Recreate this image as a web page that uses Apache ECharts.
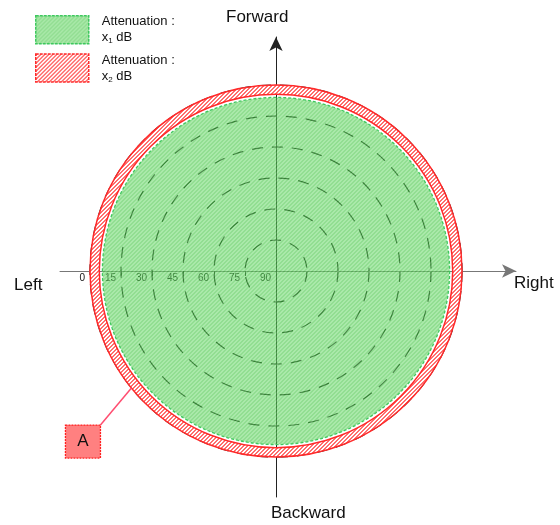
<!DOCTYPE html>
<html><head><meta charset="utf-8">
<script src="https://cdn.jsdelivr.net/npm/echarts@6/dist/echarts.min.js"></script>
<style>html,body{margin:0;padding:0;background:#fff}#c{width:560px;height:525px}</style>
</head><body><div id="c"></div>
<script>
// ---- data ----
const radiusTicks = [0, 15, 30, 45, 60, 75, 90];        // elevation tick labels (outer -> centre)
const seriesNames = ['x1', 'x2'];
const x1Region = [[6, 0]];          // green region: elevation >= 6 deg (to zenith)
const x2Region = [[0, 0, 4.5]];     // red band: elevation 0 .. 4.5 deg
const directionLabels = { forward: 'Forward', backward: 'Backward', left: 'Left', right: 'Right' };
const legendLines = { x1: ['Attenuation :', 'x', '1', ' dB'], x2: ['Attenuation :', 'x', '2', ' dB'] };
const annotationText = 'A';
const annotationPoint = [0, 321];   // [elevation, azimuth] the callout points at

// ---- hatch patterns ----
function hatch(bg, fg, size, width) {
  const c = document.createElement('canvas');
  c.width = c.height = size;
  const g = c.getContext('2d');
  const img = g.createImageData(size, size);
  for (let y = 0; y < size; y++) for (let x = 0; x < size; x++) {
    const col = ((x + y) % size) < width ? fg : bg;
    const i = (y * size + x) * 4;
    img.data[i] = col[0]; img.data[i + 1] = col[1]; img.data[i + 2] = col[2]; img.data[i + 3] = col[3];
  }
  g.putImageData(img, 0, 0);
  return { image: c, repeat: 'repeat' };
}
const greenPat = hatch([75, 200, 75, 155], [115, 218, 115, 155], 4, 2);
const redPat = hatch([255, 255, 255, 255], [255, 110, 110, 255], 4, 2);

const FONT = 'Liberation Sans, Arial, sans-serif';
const chart = echarts.init(document.getElementById('c'));

function legendFmt(name) {
  const l = legendLines[name];
  return '{t|' + l[0] + '}\n{t|' + l[1] + '}{s|' + l[2] + '}{t|' + l[3] + '}';
}

chart.setOption({
  animation: false,
  backgroundColor: '#fff',
  grid: { left: 60, right: 44, top: 37, bottom: 28 },
  xAxis: {
    type: 'value', min: -216, max: 240,
    axisLine: { lineStyle: { color: '#777', width: 1 }, symbol: ['none', 'arrow'], symbolSize: [10, 14] },
    axisLabel: { show: false }, axisTick: { show: false }, splitLine: { show: false }
  },
  yAxis: {
    type: 'value', min: -226, max: 234,
    axisLine: { lineStyle: { color: '#222', width: 1 }, symbol: ['none', 'arrow'], symbolSize: [10, 14] },
    axisLabel: { show: false }, axisTick: { show: false }, splitLine: { show: false }
  },
  polar: { center: [276, 271], radius: 186 },
  angleAxis: {
    type: 'value', min: 0, max: 360, startAngle: 180,
    axisLine: { show: false }, axisLabel: { show: false }, axisTick: { show: false }, splitLine: { show: false }
  },
  radiusAxis: {
    type: 'value', min: radiusTicks[0], max: radiusTicks[radiusTicks.length - 1],
    interval: radiusTicks[1] - radiusTicks[0], inverse: true,
    axisLine: { show: false },
    axisTick: { show: true, length: 5, inside: true, lineStyle: { color: '#222' } },
    axisLabel: { fontSize: 10, color: '#111', fontFamily: FONT, margin: 2, align: 'right', padding: [0, 5, 0, 0] },
    splitLine: { show: true, lineStyle: { color: '#111', width: 1.2, type: [11, 9] } }
  },
  legend: {
    orient: 'vertical', left: 30, top: 10, itemWidth: 53, itemHeight: 28, itemGap: 8,
    icon: 'rect', selectedMode: false,
    formatter: legendFmt,
    textStyle: {
      padding: [0, 0, 0, 8],
      rich: {
        t: { fontSize: 13, color: '#111', fontFamily: FONT, lineHeight: 16 },
        s: { fontSize: 8, color: '#111', fontFamily: FONT, lineHeight: 16, padding: [7, 0, 0, 0] }
      }
    },
    data: [
      { name: 'x1', itemStyle: { color: greenPat, borderColor: '#3ec85e', borderWidth: 1.5, borderType: [3, 1] } },
      { name: 'x2', itemStyle: { color: redPat, borderColor: '#ff2a2a', borderWidth: 1.5, borderType: [3, 1] } }
    ]
  },
  series: [
    {
      name: seriesNames[1], type: 'custom', coordinateSystem: 'polar', z: 3,
      itemStyle: { color: redPat, borderColor: '#ff2a2a' },
      data: x2Region,
      renderItem: function (params, api) {
        const cs = params.coordSys;
        const p0 = api.coord([api.value(0), 0]);
        const p1 = api.coord([api.value(2), 0]);
        const r = Math.hypot(p0[0] - cs.cx, p0[1] - cs.cy);
        const r0 = Math.hypot(p1[0] - cs.cx, p1[1] - cs.cy);
        return { type: 'ring', shape: { cx: cs.cx, cy: cs.cy, r: r, r0: r0 },
          style: { fill: redPat, stroke: '#ff2a2a', lineWidth: 1.5 } };
      }
    },
    {
      name: seriesNames[0], type: 'custom', coordinateSystem: 'polar', z: 4,
      itemStyle: { color: greenPat, borderColor: '#3ec85e' },
      data: x1Region,
      renderItem: function (params, api) {
        const cs = params.coordSys;
        const p = api.coord([api.value(0), 0]);
        const r = Math.hypot(p[0] - cs.cx, p[1] - cs.cy);
        return { type: 'circle', shape: { cx: cs.cx, cy: cs.cy, r: r },
          style: { fill: greenPat, stroke: '#3ec85e', lineWidth: 1.3, lineDash: [3, 2] } };
      }
    }
  ]
});

// direction labels and callout
const anchor = chart.convertToPixel({ polarIndex: 0 }, annotationPoint);
const boxW = 35, boxH = 33;
const boxX = anchor[0] - 31 - boxW, boxY = anchor[1] + 37;
chart.setOption({
  graphic: [
    { type: 'text', left: 226, top: 9, style: { text: directionLabels.forward, font: '17px ' + FONT, fill: '#111' } },
    { type: 'text', left: 271, top: 505, style: { text: directionLabels.backward, font: '17px ' + FONT, fill: '#111' } },
    { type: 'text', left: 14, top: 277, style: { text: directionLabels.left, font: '17px ' + FONT, fill: '#111' } },
    { type: 'text', left: 514, top: 275, style: { text: directionLabels.right, font: '17px ' + FONT, fill: '#111' } },
    { type: 'line', z: 10, shape: { x1: anchor[0], y1: anchor[1], x2: boxX + boxW, y2: boxY },
      style: { stroke: '#ff4d70', lineWidth: 1.5 } },
    { type: 'rect', z: 10, shape: { x: boxX, y: boxY, width: boxW, height: boxH },
      style: { fill: '#ff8080', stroke: '#ff2020', lineWidth: 1.3, lineDash: [2, 1] } },
    { type: 'text', z: 11, x: boxX + boxW / 2, y: boxY + boxH / 2,
      style: { text: annotationText, font: '17px ' + FONT, fill: '#111', align: 'center', verticalAlign: 'middle' } }
  ]
});
</script></body></html>
